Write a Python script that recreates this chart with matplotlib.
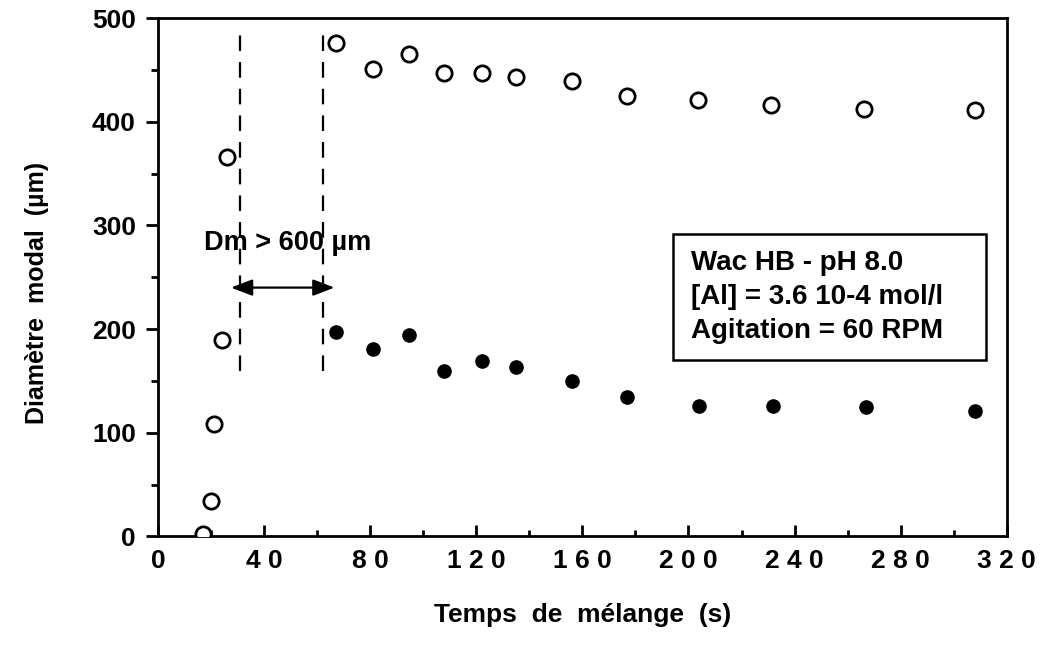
import matplotlib
matplotlib.use("Agg")
import matplotlib.pyplot as plt
from matplotlib.patches import Rectangle
from matplotlib.ticker import MultipleLocator

# =====================================================
# Data
# =====================================================

# open circles: modal diameter
open_x = [17, 20, 21, 24, 26, 67, 81, 94.5, 108, 122, 135, 156, 177, 203.5, 231, 266, 308]
open_y = [2, 34, 108, 189, 366, 476, 451, 465, 447, 447, 443, 439, 425, 421, 416, 412, 411]

# filled circles
filled_x = [67, 81, 94.5, 108, 122, 135, 156, 177, 204, 232, 267, 308]
filled_y = [197, 181, 194, 160, 169, 163, 150, 134, 126, 126, 125, 121]

# Dm > 600 um window
window_x = [31, 62]
window_y = [160, 490]
arrow_y = 240

xticks = [0, 40, 80, 120, 160, 200, 240, 280, 320]
yticks = [0, 100, 200, 300, 400, 500]

box_lines = ["Wac HB - pH 8.0", "[Al] = 3.6 10-4 mol/l", "Agitation = 60 RPM"]

# =====================================================
# Figure
# =====================================================

plt.rcParams["font.family"] = ["Liberation Sans", "DejaVu Sans"]
plt.rcParams["font.weight"] = "bold"

fig = plt.figure(figsize=(10.4, 6.47), dpi=100)
ax = fig.add_axes([0.152, 0.171, 0.816, 0.801])

ax.plot(open_x, open_y, "o", mfc="white", mec="black", mew=2.0, ms=11, zorder=3)
ax.plot(filled_x, filled_y, "o", color="black", ms=9.5, zorder=3)

for xv in window_x:
    ax.plot([xv, xv], window_y, color="black", lw=1.6, dashes=(7, 5))

ax.annotate("", xy=(window_x[0] - 3.5, arrow_y), xytext=(window_x[1] + 4.5, arrow_y),
            arrowprops=dict(arrowstyle="<|-|>,head_length=1.3,head_width=0.5",
                            color="black", lw=1.6, shrinkA=0, shrinkB=0))
ax.text(49, 283, "Dm > 600 \u00b5m", ha="center", va="center", fontsize=19.5, fontweight="bold")

# info box
ax.add_patch(Rectangle((194, 170), 118, 122, fill=False, ec="black", lw=1.8))
for i, line in enumerate(box_lines):
    ax.text(200.8, 264 - 33 * i, line, ha="left", va="center", fontsize=20, fontweight="bold")

# axes
ax.set_xlim(0, 320)
ax.set_ylim(0, 500)
ax.set_xticks(xticks)
ax.set_xticklabels([" ".join(str(t)) for t in xticks])
ax.set_yticks(yticks)
ax.set_yticklabels([str(t) for t in yticks])
ax.xaxis.set_minor_locator(MultipleLocator(20))
ax.yaxis.set_minor_locator(MultipleLocator(50))

ax.tick_params(axis="x", which="major", direction="in", length=8, width=2, labelsize=19, pad=9)
ax.tick_params(axis="x", which="minor", direction="in", length=4, width=2)
ax.tick_params(axis="y", which="major", direction="out", length=9, width=2, labelsize=19, pad=7)
ax.tick_params(axis="y", which="minor", direction="out", length=5, width=2)

for s in ax.spines.values():
    s.set_linewidth(2.0)

ax.set_xlabel("Temps  de  m\u00e9lange  (s)", fontsize=19, fontweight="bold", labelpad=22)
ax.set_ylabel("Diam\u00e8tre  modal  (\u00b5m)", fontsize=18, fontweight="bold")
ax.yaxis.set_label_coords(-0.128, 0.47)

fig.savefig("out.png", dpi=100)
